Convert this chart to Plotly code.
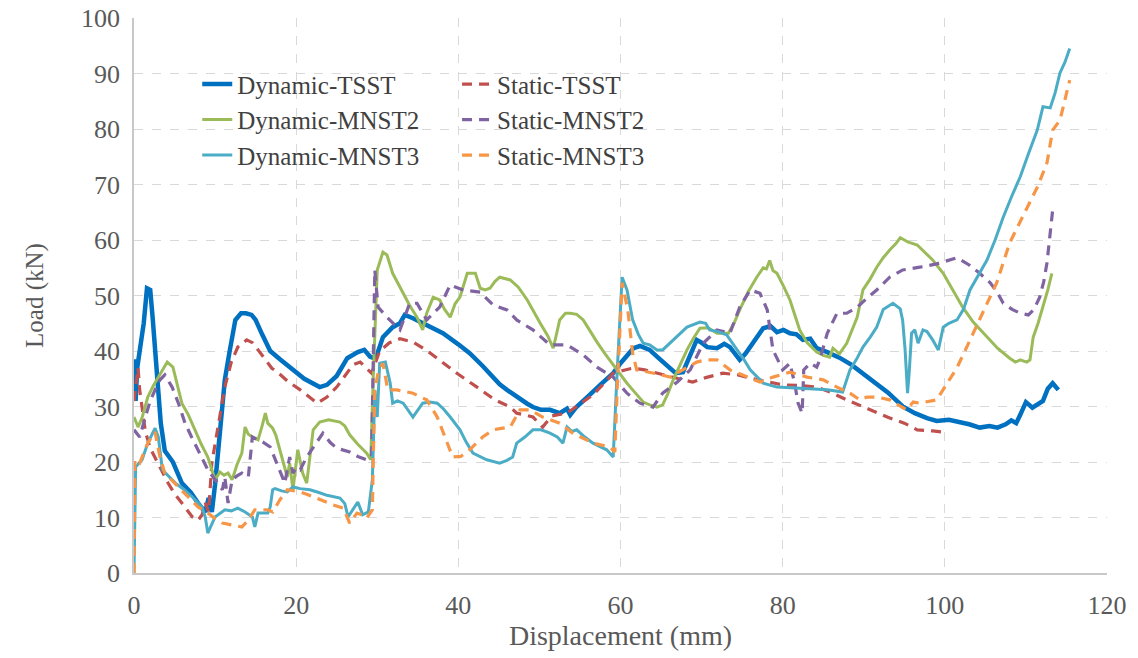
import plotly.graph_objects as go

# ---------------- data ----------------
dyn_tsst_x = [0, 0.2, 0.4, 0.7, 1.2, 1.6, 2.0, 2.3, 2.8, 3.3, 3.8, 4.8, 5.9, 7.0, 7.9, 8.8, 9.2, 9.6, 10.0, 10.5, 11.2, 11.8, 12.5, 13.2, 13.8, 14.5, 15.0, 15.8, 16.8, 18.0, 19.6, 21.0, 22.9, 23.8, 25.0, 26.3, 27.6, 28.4, 29.1, 29.8, 30.7, 31.9, 32.8, 33.4, 34.4, 36.0, 38.1, 40.0, 41.4, 43.0, 44.3, 45.1, 46.0, 47.2, 48.5, 49.2, 50.2, 51.3, 52.5, 53.4, 53.8, 54.5, 55.3, 55.9, 57.5, 59.1, 60.0, 60.8, 61.6, 62.4, 63.6, 64.5, 65.3, 66.1, 66.8, 67.7, 68.5, 69.4, 70.0, 70.7, 71.9, 72.8, 73.5, 74.7, 75.4, 76.0, 76.8, 77.6, 78.5, 79.3, 80.1, 80.9, 81.7, 82.5, 83.4, 84.2, 85.5, 87.0, 88.5, 90.0, 91.5, 93.0, 94.8, 96.3, 97.8, 99.0, 100.5, 101.9, 103.0, 104.3, 105.5, 106.5, 107.5, 108.2, 108.8, 109.3, 110.0, 110.8, 111.5, 112.1, 112.7, 113.3, 114.0]
dyn_tsst_y = [38.5, 31, 37, 40, 45, 51.3, 51, 46, 36, 27, 22, 20, 16.2, 14.5, 12.6, 11, 13.5, 11, 16, 24, 34.8, 40, 45.6, 46.8, 46.8, 46.5, 45.6, 43, 40, 38.5, 36.6, 35, 33.5, 33.9, 35.5, 38.7, 39.8, 40.2, 39, 38.6, 42.5, 44.3, 45, 46.5, 45.9, 44.8, 43.2, 41.2, 39.6, 37.3, 35.3, 34, 33, 31.7, 30.5, 29.9, 29.4, 29.4, 28.8, 29.6, 28.5, 29.8, 30.8, 31.7, 33.9, 36, 37.8, 39.3, 40.5, 40.9, 40.2, 39.0, 38.0, 37.1, 36.0, 36.2, 39, 42, 41.5, 40.7, 40.5, 41.3, 40.7, 38.4, 39.5, 40.7, 42.6, 44.1, 44.5, 43.4, 43.8, 43.2, 43, 42, 42.2, 40.5, 39.8, 38.8, 37.5, 35.8, 34.2, 32.5, 30.0, 28.8, 27.9, 27.4, 27.6, 27.2, 26.8, 26.2, 26.5, 26.2, 26.8, 27.5, 27.0, 28.5, 30.8, 29.8, 30.4, 31.0, 33.2, 34.2, 33.0, 32.5]

sta_tsst_x = [0.0, 0.3, 0.5, 0.7, 1.0, 1.4, 2.0, 2.6, 3.4, 4.2, 5.0, 5.9, 6.6, 7.2, 7.9, 8.4, 8.8, 9.2, 9.6, 10.4, 11.2, 12.0, 12.8, 13.9, 14.6, 15.3, 16.2, 17.0, 17.6, 19.0, 20.5, 21.5, 22.6, 23.8, 25.0, 26.0, 27.0, 27.9, 28.7, 29.3, 30.3, 31.5, 32.8, 34.4, 36.0, 38.1, 40.0, 42.3, 44.5, 46.4, 47.2, 48.2, 49.2, 50.4, 51.5, 53.4, 55.0, 56.6, 58.0, 59.1, 60.3, 61.5, 63.0, 64.0, 65.5, 67.7, 68.9, 70.5, 72.6, 74.5, 76.0, 78.0, 80.0, 82.0, 84.2, 86.0, 87.9, 90.5, 92.9, 95.0, 96.6, 98.5, 99.8]
sta_tsst_y = [31, 35, 37, 33, 29.4, 25.5, 22.5, 20.9, 18.5, 16.2, 14.3, 12.6, 11.3, 10.1, 9.5, 10.5, 12.6, 11, 19.8, 27, 33.5, 38, 40.7, 42, 41.5, 40.2, 38.5, 36.9, 36.3, 34.5, 33, 31.8, 30.6, 31.7, 33.5, 35.5, 37.5, 38, 36.9, 36, 40.0, 41.5, 42.2, 41.6, 40.2, 37.8, 35.8, 33.5, 31.2, 29.9, 28.8, 28.5, 28.1, 26.3, 28.3, 28.8, 30.5, 32.1, 34.2, 36, 36.5, 36.9, 36.6, 36.2, 35.6, 34.8, 34.4, 35.2, 36, 35.7, 35.1, 34.5, 33.9, 33.8, 33.5, 32.5, 31.2, 29.6, 28.1, 27, 25.8, 25.6, 25.4]

dyn_mnst2_x = [0, 0.5, 1.0, 1.7, 2.4, 3.0, 3.6, 4.1, 4.8, 5.4, 5.9, 6.7, 7.5, 8.3, 9.1, 10.0, 10.6, 11.1, 11.6, 12.1, 12.7, 13.3, 13.7, 14.1, 14.6, 15.3, 15.8, 16.2, 16.5, 17.1, 17.5, 18.0, 18.5, 18.9, 19.2, 19.6, 20.2, 20.8, 21.3, 21.7, 22.1, 22.9, 24.0, 25.4, 26.0, 26.6, 27.6, 28.7, 29.2, 29.5, 30.0, 30.7, 31.2, 31.9, 32.5, 33.2, 34.0, 34.9, 35.6, 36.1, 36.9, 37.7, 38.3, 39.0, 39.6, 40.2, 41.1, 42.1, 42.7, 43.3, 43.9, 44.5, 45.1, 46.4, 47.4, 48.5, 49.3, 50.1, 51.0, 51.7, 52.1, 52.5, 53.2, 53.8, 54.6, 55.4, 56.3, 57.1, 58.1, 59.1, 60.0, 60.8, 61.8, 62.8, 63.6, 64.5, 65.2, 65.8, 66.5, 67.3, 68.2, 69.0, 69.8, 70.8, 71.9, 73.3, 74.0, 74.7, 75.8, 76.8, 77.6, 78.0, 78.4, 78.8, 79.3, 80.1, 80.9, 81.5, 82.1, 83.0, 84.2, 85.0, 85.8, 86.2, 87.0, 87.9, 88.6, 89.2, 89.9, 90.8, 91.6, 92.4, 93.2, 94.0, 94.5, 95.5, 96.6, 97.5, 98.5, 99.8, 101.0, 102.2, 103.5, 105.2, 106.5, 108.0, 108.7, 109.3, 110.1, 110.5, 110.9, 111.5, 112.1, 112.7, 113.2]
dyn_mnst2_y = [28.1, 26.3, 28, 31.7, 33.8, 35.3, 37.0, 38.0, 37.1, 33.5, 30.6, 28.5, 25.8, 23.2, 20.9, 16.8, 18.2, 17.6, 18, 16.8, 19.5, 21.6, 26.3, 25, 24.5, 24, 26.5, 28.8, 27, 26.1, 24.8, 22.2, 19.5, 17.3, 19.8, 15, 22.2, 18, 16.2, 21, 25.8, 27.2, 27.6, 27.2, 26.5, 24.9, 23.2, 21.6, 20.4, 35, 54.6, 57.8, 57.3, 54, 52.4, 50.4, 48.2, 46.1, 43.8, 46.8, 49.7, 49.2, 47.5, 46.1, 48.5, 49.7, 54, 54, 51.3, 51.0, 51.3, 52.5, 53.3, 52.8, 51.5, 49.2, 47.0, 45, 42.8, 40.5, 43, 45.6, 46.8, 46.8, 46.6, 45.6, 43.5, 41.6, 39.5, 37.5, 35.8, 34.2, 32.5, 30.8, 30.3, 29.9, 30.3, 32.2, 34.8, 37.5, 40.2, 42.3, 44.1, 44.2, 43.2, 43.2, 45.0, 47.4, 50.8, 53.3, 55.0, 54.8, 56.3, 54.5, 54, 51.7, 49.2, 46.5, 43.8, 41.5, 39.8, 39.2, 38.9, 40.5, 39.5, 41.4, 44.0, 46.1, 51, 53.0, 55.1, 56.8, 58.2, 59.4, 60.4, 59.6, 59.1, 57.8, 56.4, 54, 51, 47.9, 45.2, 42.5, 40.5, 38.7, 38.0, 38.4, 38.0, 38.4, 42.5, 45.0, 47.9, 51.0, 54]

sta_mnst2_x = [0, 0.7, 1.4, 2.0, 2.6, 3.2, 3.8, 4.7, 5.5, 6.3, 7.1, 7.9, 8.5, 9.1, 10.0, 10.9, 11.2, 11.6, 12.1, 12.7, 13.3, 14.1, 14.6, 15.3, 16.0, 16.8, 17.4, 18.0, 18.6, 19.2, 19.6, 20.0, 20.5, 21.3, 22.1, 22.7, 23.3, 24.2, 25.0, 26.6, 27.6, 28.7, 29.3, 29.7, 30.1, 31.2, 32.0, 32.8, 34.0, 34.9, 36.1, 37.0, 37.7, 39.0, 40.6, 42.7, 44.3, 46.0, 47.2, 49.2, 51.3, 53.4, 55.4, 57.1, 59.1, 60.8, 62.4, 63.3, 64.0, 65.2, 67.0, 68.6, 70.2, 71.9, 73.5, 74.7, 76.0, 77.2, 78.1, 78.8, 80.0, 80.9, 81.5, 81.9, 82.4, 82.6, 83.4, 84.2, 84.6, 85.5, 86.7, 87.9, 89.2, 90.4, 91.6, 93.2, 94.8, 96.9, 99.0, 101.5, 103.0, 104.3, 105.6, 106.5, 107.2, 108.3, 109.3, 110.3, 111.0, 111.7, 112.2, 112.6, 113.0, 113.3]
sta_mnst2_y = [25.8, 24.5, 28.1, 31, 33, 34.8, 35.7, 33.5, 30.5, 27, 24.5, 22.2, 20.5, 18.6, 16.8, 15, 17.3, 12.6, 16.8, 17.5, 18, 17.3, 24.5, 24, 23.5, 22.7, 20.5, 18.6, 16.2, 20.9, 18, 19, 18.6, 20.9, 22.7, 24, 25.2, 23.5, 22.5, 21.8, 21, 20.4, 21, 54.6, 47.9, 46.1, 45, 43.8, 48.6, 48.6, 45.6, 47, 47.9, 51.9, 51, 50.6, 48.3, 47.4, 45.6, 43.8, 41.1, 41.1, 39.3, 37.1, 35.3, 32.4, 30.6, 30.2, 29.9, 32.4, 34.4, 36.6, 41.4, 43.8, 43.2, 47.9, 51, 50.4, 47.4, 40.2, 36.6, 37.8, 34.0, 30.6, 28.8, 36.6, 37.8, 37.1, 38.5, 43.2, 46.8, 46.8, 47.9, 49.5, 51, 53.3, 54.6, 55.1, 55.7, 56.8, 55.5, 54, 52.3, 50.5, 48.6, 47.5, 46.8, 46.5, 47.5, 49.7, 52.5, 55.9, 61, 65.4]

dyn_mnst3_x = [0, 0.1, 0.2, 1.0, 1.7, 2.6, 3.0, 3.5, 4.2, 5.1, 6.2, 7.2, 8.4, 8.8, 9.1, 9.5, 10.0, 11.2, 12.0, 12.8, 13.7, 14.6, 14.9, 15.3, 16.5, 16.8, 17.1, 17.4, 18.2, 18.9, 19.6, 20.5, 21.7, 22.8, 23.8, 25.4, 26.0, 26.4, 27.0, 27.6, 28.2, 28.9, 29.4, 29.7, 30.0, 30.3, 31.0, 31.6, 31.9, 32.5, 33.2, 34.4, 35.6, 36.5, 37.4, 38.2, 39.0, 40.2, 41.0, 41.8, 43.5, 45.1, 46.0, 46.7, 47.2, 48.2, 49.2, 50.2, 51.3, 52.2, 52.9, 53.4, 54.0, 54.6, 55.6, 56.6, 58.3, 59.1, 59.6, 60.2, 60.8, 61.5, 62.2, 62.8, 63.6, 64.5, 65.2, 66.5, 67.5, 68.2, 69.8, 70.5, 71.0, 72.0, 73.1, 74.4, 75.2, 76.0, 77.6, 79.3, 81.8, 84.2, 85.5, 87.4, 88.3, 89.1, 89.9, 90.8, 91.6, 92.4, 92.9, 93.6, 94.5, 94.8, 95.1, 95.4, 95.6, 95.9, 96.3, 96.7, 97.3, 97.8, 98.5, 99.2, 99.8, 100.5, 101.5, 102.3, 103.1, 104.2, 105.2, 106.2, 107.2, 108.2, 109.3, 110.3, 111.4, 112.1, 113.0, 113.6, 114.2, 114.8, 115.4]
dyn_mnst3_y = [0, 10, 19.1, 20.4, 23.4, 26.1, 24.5, 18.6, 17.5, 16.2, 15, 13.7, 11.9, 10, 7.2, 8.5, 10.1, 11.4, 11.2, 11.7, 11, 10.1, 8.3, 10.8, 10.8, 11.9, 15, 15.2, 14.8, 14.6, 15.5, 15.2, 15, 14.5, 14, 13.5, 12.5, 10.1, 11.4, 12.8, 10.5, 11, 16.8, 33, 28.1, 37.8, 38, 34.2, 30.6, 31, 30.6, 28.1, 30.6, 30.8, 30.6, 29.5, 28.1, 25.8, 23.5, 21.6, 20.4, 19.8, 20.3, 20.9, 23.4, 24.5, 25.8, 25.8, 25.2, 24.5, 23.4, 26.3, 25.5, 25.8, 24.5, 23.4, 22.2, 20.9, 36.6, 53.3, 51, 45.6, 43, 41.4, 41.1, 40.2, 40.2, 42, 43.5, 44.3, 45.2, 45.0, 43.8, 43.5, 42.9, 40.2, 38.5, 36.6, 34.2, 33.5, 33.3, 33, 33, 32.6, 36.6, 38.5, 40.7, 42.5, 44.3, 47.5, 47.9, 48.6, 47.6, 45.5, 40.2, 32.4, 36, 43.2, 43.8, 41.4, 43.8, 43.5, 42, 40.2, 44.3, 45.0, 45.6, 47.5, 51, 53.8, 56.4, 60, 64.1, 67.7, 71.4, 75.5, 79.8, 84, 83.8, 86.5, 90.1, 92, 94.5]

sta_mnst3_x = [0, 0.1, 0.7, 1.2, 1.7, 2.6, 3.2, 3.8, 4.8, 5.9, 6.9, 7.9, 9.1, 10.0, 10.9, 12.0, 13.3, 14.1, 14.9, 15.7, 16.5, 17.1, 18.0, 18.9, 19.7, 20.5, 21.3, 22.1, 23.3, 24.5, 25.8, 26.6, 27.5, 28.1, 28.7, 29.4, 29.5, 29.7, 30.1, 30.7, 31.3, 32.4, 33.4, 34.4, 35.2, 36.1, 37.4, 38.6, 39.3, 40.3, 41.4, 43.0, 44.3, 45.1, 46.4, 47.6, 48.8, 50.4, 52.5, 54.1, 55.3, 56.6, 58.7, 59.3, 59.6, 60.2, 60.9, 61.5, 62.0, 63.6, 64.8, 66.1, 67.7, 69.4, 70.5, 71.9, 73.5, 75.6, 77.2, 78.8, 80.9, 83.0, 85.0, 86.7, 88.3, 89.5, 90.4, 91.6, 93.2, 95.3, 96.1, 96.9, 99.0, 100.3, 101.5, 102.7, 104.7, 106.4, 108.0, 109.6, 111.4, 112.6, 113.3, 114.2, 115.4]
sta_mnst3_y = [0, 20.4, 19.8, 21.5, 23.4, 25.4, 20.9, 18, 16.5, 15, 13.5, 11.9, 10.8, 9.8, 9, 8.7, 8.3, 9.5, 11.4, 11.4, 11.4, 11, 13.2, 15, 14.8, 14.6, 14.2, 13.7, 13, 12.3, 11.7, 9, 10.8, 10.5, 9.9, 11.4, 20, 33, 36, 37.8, 33, 33, 32.7, 32.4, 31.8, 31.2, 28.1, 23.4, 20.9, 21, 22.2, 24.5, 25.8, 26, 26.3, 29.4, 29.4, 28.1, 27, 25.2, 24.3, 23.4, 22.7, 21.8, 33.5, 52.3, 47.4, 39.6, 36.6, 36.2, 35.8, 35.3, 36.6, 38, 38.4, 38.4, 36.6, 35.3, 34.4, 35.3, 36.2, 35.3, 34.8, 33.5, 32.4, 31.2, 31.7, 31.7, 31.2, 29.4, 30.8, 30.6, 31.2, 34.2, 37.0, 40.7, 46.8, 52.3, 59.5, 64.1, 69.5, 73.9, 79.8, 81.6, 88.8]

x_ticks = [0, 20, 40, 60, 80, 100, 120]
y_ticks = [0, 10, 20, 30, 40, 50, 60, 70, 80, 90, 100]

# ---------------- figure ----------------
FONT = "'Liberation Serif', 'Times New Roman', 'DejaVu Serif', serif"
fig = go.Figure()

series = [
    ("Dynamic-TSST", dyn_tsst_x, dyn_tsst_y, "#0070C0", 4.5, "solid", "legend"),
    ("Static-TSST", sta_tsst_x, sta_tsst_y, "#C0504D", 3.2, "10px,7px", "legend2"),
    ("Dynamic-MNST2", dyn_mnst2_x, dyn_mnst2_y, "#9BBB59", 3, "solid", "legend"),
    ("Static-MNST2", sta_mnst2_x, sta_mnst2_y, "#8064A2", 3.2, "10px,7px", "legend2"),
    ("Dynamic-MNST3", dyn_mnst3_x, dyn_mnst3_y, "#4BACC6", 3, "solid", "legend"),
    ("Static-MNST3", sta_mnst3_x, sta_mnst3_y, "#F79646", 3.2, "10px,7px", "legend2"),
]
for name, xs, ys, col, w, dash, leg in series:
    fig.add_trace(go.Scatter(x=xs, y=ys, mode="lines", name=name,
                             line=dict(color=col, width=w, dash=dash),
                             legend=leg))

axis_common = dict(
    showline=True, linecolor="#c8c8c8", linewidth=1.5,
    showgrid=True, gridcolor="#d9d9d9", griddash="dash", gridwidth=1,
    zeroline=False, ticks="", automargin=False,
    tickfont=dict(family=FONT, size=26, color="#595959"),
)
fig.update_xaxes(range=[0, 120], tickvals=x_ticks, ticklabelstandoff=8,
                 title=dict(text="Displacement (mm)", standoff=6,
                            font=dict(family=FONT, size=28, color="#595959")),
                 **axis_common)
fig.update_yaxes(range=[0, 100], tickvals=y_ticks, ticklabelstandoff=7,
                 title=dict(text="Load (kN)", standoff=30,
                            font=dict(family=FONT, size=25, color="#595959")),
                 **axis_common)

leg_common = dict(font=dict(family=FONT, size=25, color="#404040"),
                  bgcolor="rgba(0,0,0,0)", yanchor="top", xanchor="left",
                  orientation="v", tracegroupgap=0)
fig.update_layout(
    width=1138, height=658,
    margin=dict(l=134, r=31, t=18, b=85, autoexpand=False),
    paper_bgcolor="white", plot_bgcolor="white",
    showlegend=True,
    legend=dict(x=0.065, y=0.922, **leg_common),
    legend2=dict(x=0.332, y=0.922, **leg_common),
)

fig.write_html("out.html")
